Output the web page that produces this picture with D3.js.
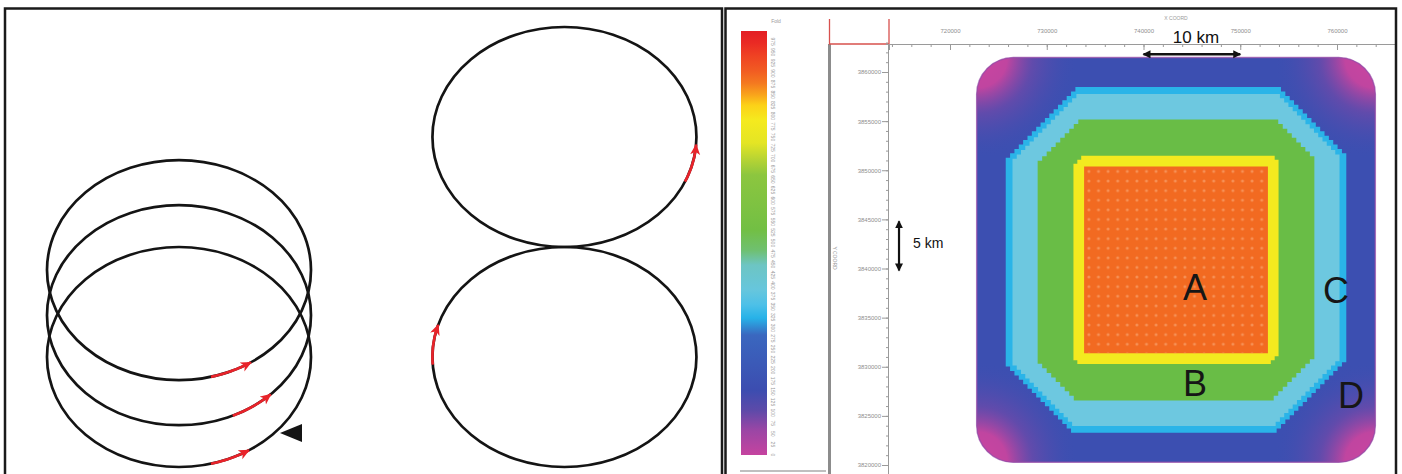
<!DOCTYPE html>
<html>
<head>
<meta charset="utf-8">
<script src="https://cdn.jsdelivr.net/npm/d3@7"></script>
<style>
  body { margin: 0; background: #fff; }
  svg { display: block; font-family: "Liberation Sans", Arial, sans-serif; }
</style>
</head>
<body>
<script>
// ---------- left panel: acquisition loops (units = loop radius) ----------
const spiralLoops = [0, 0.38, 0.79];     // centre heights of the three spiral loops
const eightLoops = [0, 2.0];             // centre heights of the figure-eight loops
const spiralX = 0;
const eightX = 2.92;
// red direction arrows, start/end angle in degrees on each loop
const spiralArrows = [[-76, -58], [-66, -46], [-76, -57]];
const eightArrows = [[184, 163], [-24, -4]];
const startMarker = [0.765, -0.69];      // black triangle tip (on lowest spiral loop)

// ---------- right panel: fold map ----------
const xTicks = [720000, 730000, 740000, 750000, 760000];
const yTicks = [3860000, 3855000, 3850000, 3845000, 3840000, 3835000, 3830000, 3825000, 3820000];
const foldTicks = [975, 950, 925, 900, 875, 850, 825, 800, 775, 750, 725, 700, 675, 650,
  625, 600, 575, 550, 525, 500, 475, 450, 425, 400, 375, 350, 325, 300, 275, 250, 225,
  200, 175, 150, 125, 100, 75, 50, 25, 0];
const foldValues = [1000, 972, 943, 908, 877, 849, 825, 790, 736, 696, 660, 531, 483, 448,
  389, 354, 323, 283, 153, 106, 59, 0];
const foldColors = ['#e31e24', '#ea2a24', '#ef4123', '#f15a22', '#f47920', '#f9a51b',
  '#fcd118', '#f5ea1e', '#e4e524', '#b5d334', '#8cc63f', '#72bf44', '#6fc070', '#6dc5c3',
  '#66c6dd', '#4dc0e8', '#27b2e8', '#3a67bf', '#3c4db0', '#5c4aa9', '#9a46a5', '#c5439f'];

const surveyCentre = [743360, 3840870];
const bandHalf = [20.6, 17.6, 16.9, 14.3, 10.6, 9.5];     // km, half width of each zone
const bandCorner = [3.8, 7.2, 6.6, 4.2, 0.8, 0];           // km, corner cut
const bandColor = ['#3c4fb1', '#2ab4e8', '#6dc8e0', '#69bd46', '#f3ea1f', '#f26a21'];

const zoneLabels = ['A', 'B', 'C', 'D'];
const zoneX = [745320, 745320, 759900, 761450];
const zoneY = [3838100, 3828350, 3837800, 3827150];

const W = 1402, H = 474;
const svg = d3.select('body').append('svg').attr('width', W).attr('height', H);
const defs = svg.append('defs');

// ======================= LEFT PANEL =======================
const lx = d3.scaleLinear().domain([0, 1]).range([179, 311]);
const ly = d3.scaleLinear().domain([0, 1]).range([357, 247]);
const rx = lx(1) - lx(0), ry = ly(0) - ly(1);

defs.append('marker')
  .attr('id', 'redhead')
  .attr('markerUnits', 'userSpaceOnUse')
  .attr('markerWidth', 14).attr('markerHeight', 12)
  .attr('refX', 10).attr('refY', 5)
  .attr('orient', 'auto')
  .append('path')
  .attr('d', 'M0,0 L11,5 L0,10 L3,5 Z')
  .attr('fill', '#e8232a');

const left = svg.append('g');

function loop(u, v) {
  left.append('ellipse')
    .attr('cx', lx(u)).attr('cy', ly(v))
    .attr('rx', rx).attr('ry', ry)
    .attr('fill', 'none').attr('stroke', '#141414').attr('stroke-width', 2.7);
}
spiralLoops.forEach(v => loop(spiralX, v));
eightLoops.forEach(v => loop(eightX, v));

function arc(u, v, a) {
  const step = a[1] > a[0] ? 1 : -1;
  const ang = d3.range(a[0], a[1] + step * 0.5, step);
  const line = d3.line()
    .x(t => lx(u + Math.cos(t * Math.PI / 180)))
    .y(t => ly(v + Math.sin(t * Math.PI / 180)));
  left.append('path')
    .attr('d', line(ang))
    .attr('fill', 'none').attr('stroke', '#e8232a').attr('stroke-width', 2.7)
    .attr('marker-end', 'url(#redhead)');
}
spiralArrows.forEach((a, i) => arc(spiralX, spiralLoops[i], a));
eightArrows.forEach((a, i) => arc(eightX, eightLoops[i], a));

// start marker triangle
const tx = lx(startMarker[0]), ty = ly(startMarker[1]);
left.append('path')
  .attr('d', `M${tx},${ty} L${tx + 22},${ty - 9} L${tx + 22},${ty + 9} Z`)
  .attr('fill', '#141414');

// ======================= RIGHT PANEL =======================
const mx = d3.scaleLinear().domain([720000, 760000]).range([950, 1337]);
const my = d3.scaleLinear().domain([3860000, 3820000]).range([72, 465]);
const right = svg.append('g');

// --- colour bar ---
const fy = d3.scaleLinear().domain([0, 1000]).range([455, 31]);
const grad = defs.append('linearGradient')
  .attr('id', 'foldgrad')
  .attr('gradientUnits', 'userSpaceOnUse')
  .attr('x1', 0).attr('x2', 0)
  .attr('y1', fy(1000)).attr('y2', fy(0));
foldValues.forEach((v, i) => {
  grad.append('stop')
    .attr('offset', (fy(v) - fy(1000)) / (fy(0) - fy(1000)))
    .attr('stop-color', foldColors[i]);
});
right.append('rect')
  .attr('x', 741).attr('y', fy(1000))
  .attr('width', 26).attr('height', fy(0) - fy(1000))
  .attr('fill', 'url(#foldgrad)');

right.selectAll('.foldlab')
  .data(foldTicks)
  .enter().append('text')
  .attr('class', 'foldlab')
  .attr('transform', d => `translate(771,${fy(d)}) rotate(90)`)
  .attr('text-anchor', 'middle')
  .attr('font-size', 5)
  .attr('fill', '#9a9a9a')
  .text(d => d);
right.append('text')
  .attr('x', 776).attr('y', 23)
  .attr('text-anchor', 'middle').attr('font-size', 5).attr('fill', '#9a9a9a')
  .text('Fold');
right.append('line')
  .attr('x1', 740).attr('x2', 826).attr('y1', 471).attr('y2', 471)
  .attr('stroke', '#aaa').attr('stroke-width', 1.5);

// --- frame of the map window ---
right.append('line')
  .attr('x1', 829.5).attr('x2', 829.5).attr('y1', 44).attr('y2', H)
  .attr('stroke', '#8c8c8c').attr('stroke-width', 3);
right.append('path')
  .attr('d', 'M829.5,19 V44 H889 V19')
  .attr('fill', 'none').attr('stroke', '#d8514e').attr('stroke-width', 1.3);

// --- axes ---
const ax = mx.copy().domain([mx.invert(889), mx.invert(1396)]).range([889, 1396]);
const ay = my.copy().domain([my.invert(44), my.invert(H)]).range([44, H]);

const gx = right.append('g').attr('transform', 'translate(0,44)');
gx.call(d3.axisBottom(ax).tickValues(d3.range(714000, 766001, 2000)).tickSize(3).tickFormat(''));
gx.call(g => g.append('g').call(d3.axisBottom(ax).tickValues(xTicks).tickSize(6).tickFormat('')));
gx.append('g').call(d3.axisTop(ax).tickValues(xTicks).tickSize(0).tickPadding(11).tickFormat(d3.format('d')))
  .call(g => g.select('.domain').remove());

const gy = right.append('g').attr('transform', 'translate(888,0)');
gy.call(d3.axisLeft(ay).tickValues(d3.range(3863000, 3818999, -1000)).tickSize(2).tickFormat(''));
gy.append('g').call(d3.axisLeft(ay).tickValues(yTicks).tickSize(6).tickPadding(1).tickFormat(d3.format('d')))
  .call(g => g.select('.domain').remove());

right.selectAll('.tick text').attr('font-size', 6).attr('fill', '#8e8e8e')
  .attr('font-family', '"Liberation Sans", Arial, sans-serif');
right.selectAll('.domain, .tick line').attr('stroke', '#9a9a9a');

right.append('text')
  .attr('x', 1176).attr('y', 20)
  .attr('text-anchor', 'middle').attr('font-size', 5).attr('fill', '#9a9a9a')
  .text('X COORD');
right.append('text')
  .attr('transform', 'translate(833,258) rotate(90)')
  .attr('text-anchor', 'middle').attr('font-size', 5).attr('fill', '#9a9a9a')
  .text('Y COORD');

// --- fold zones ---
const [cx, cy] = surveyCentre;
const px = d => mx(cx + d * 1000);
const py = d => my(cy + d * 1000);

function stairs(pts, p, q, n) {
  const dx = (q[0] - p[0]) / n, dy = (q[1] - p[1]) / n;
  for (let i = 1; i <= n; i++) {
    pts.push([p[0] + dx * i, p[1] + dy * (i - 1)]);
    pts.push([p[0] + dx * i, p[1] + dy * i]);
  }
}
function zonePath(h, c) {
  if (c === 0) {
    return d3.line()([[-h, h], [h, h], [h, -h], [-h, -h]].map(d => [px(d[0]), py(d[1])])) + 'Z';
  }
  const n = Math.max(1, Math.round(c / 0.45));
  const pts = [[-h + c, h], [h - c, h]];
  stairs(pts, [h - c, h], [h, h - c], n);
  pts.push([h, -h + c]);
  stairs(pts, [h, -h + c], [h - c, -h], n);
  pts.push([-h + c, -h]);
  stairs(pts, [-h + c, -h], [-h, -h + c], n);
  pts.push([-h, h - c]);
  stairs(pts, [-h, h - c], [-h + c, h], n);
  return d3.line()(pts.map(d => [px(d[0]), py(d[1])])) + 'Z';
}

const map = right.append('g');
// outer zone: rounded square
const oh = bandHalf[0];
const outer = sel => sel
  .attr('x', px(-oh)).attr('y', py(oh))
  .attr('width', px(oh) - px(-oh)).attr('height', py(-oh) - py(oh))
  .attr('rx', px(bandCorner[0]) - px(0));
defs.append('clipPath').attr('id', 'outerclip').append('rect').call(outer);
map.append('rect').call(outer).attr('fill', bandColor[0]);

// magenta low-fold corners
const rg = defs.append('radialGradient').attr('id', 'cornergrad');
[[0, '#cc45a0', 1], [0.3, '#c045a0', 1], [0.55, '#7a48a8', 0.6], [1, '#3c4fb1', 0]]
  .forEach(s => rg.append('stop').attr('offset', s[0]).attr('stop-color', s[1]).attr('stop-opacity', s[2]));
const corners = map.append('g').attr('clip-path', 'url(#outerclip)');
[[-oh, oh], [oh, oh], [oh, -oh], [-oh, -oh]].forEach(d => {
  corners.append('circle')
    .attr('cx', px(d[0])).attr('cy', py(d[1]))
    .attr('r', px(10.5) - px(0))
    .attr('fill', 'url(#cornergrad)');
});
map.append('rect').call(outer)
  .attr('fill', 'none').attr('stroke', '#9a4aa6').attr('stroke-width', 1.5).attr('stroke-opacity', 0.7);

for (let i = 1; i < bandHalf.length; i++) {
  map.append('path')
    .attr('d', zonePath(bandHalf[i], bandCorner[i]))
    .attr('fill', bandColor[i]);
}

// full-fold dotted texture
const pat = defs.append('pattern')
  .attr('id', 'dots')
  .attr('patternUnits', 'userSpaceOnUse')
  .attr('width', 9.6).attr('height', 9.6)
  .attr('x', px(-bandHalf[5])).attr('y', py(bandHalf[5]));
pat.append('circle').attr('cx', 4.8).attr('cy', 4.8).attr('r', 1.5)
  .attr('fill', '#f8a26c').attr('fill-opacity', 0.7);
map.append('path')
  .attr('d', zonePath(bandHalf[5], 0))
  .attr('fill', 'url(#dots)');

// zone letters
right.selectAll('.zone')
  .data(zoneLabels)
  .enter().append('text')
  .attr('class', 'zone')
  .attr('x', (d, i) => mx(zoneX[i]))
  .attr('y', (d, i) => my(zoneY[i]) + 13)
  .attr('text-anchor', 'middle')
  .attr('font-size', 36)
  .attr('fill', '#161616')
  .text(d => d);

// scale bars
defs.append('marker')
  .attr('id', 'blackhead')
  .attr('markerUnits', 'userSpaceOnUse')
  .attr('markerWidth', 10).attr('markerHeight', 10)
  .attr('refX', 7).attr('refY', 4)
  .attr('orient', 'auto-start-reverse')
  .append('path')
  .attr('d', 'M0,0 L8,4 L0,8 Z')
  .attr('fill', '#111');

right.append('line')
  .attr('x1', mx(740000)).attr('x2', mx(750000))
  .attr('y1', my(3861800)).attr('y2', my(3861800))
  .attr('stroke', '#111').attr('stroke-width', 2.5)
  .attr('marker-start', 'url(#blackhead)').attr('marker-end', 'url(#blackhead)');
right.append('text')
  .attr('x', 1196).attr('y', 43)
  .attr('text-anchor', 'middle').attr('font-size', 17).attr('fill', '#111')
  .text('10 km');

right.append('line')
  .attr('x1', mx(714730)).attr('x2', mx(714730))
  .attr('y1', my(3844800)).attr('y2', my(3839800))
  .attr('stroke', '#111').attr('stroke-width', 2.2)
  .attr('marker-start', 'url(#blackhead)').attr('marker-end', 'url(#blackhead)');
right.append('text')
  .attr('x', 913).attr('y', 248)
  .attr('font-size', 14).attr('fill', '#111')
  .text('5 km');

// ======================= PANEL FRAMES =======================
svg.append('path')
  .attr('d', `M5,${H + 5} V8.5 H722 V${H + 5}`)
  .attr('fill', 'none').attr('stroke', '#1a1a1a').attr('stroke-width', 2.5);
svg.append('path')
  .attr('d', `M725.5,${H + 5} V8.5 H1396 V${H + 5}`)
  .attr('fill', 'none').attr('stroke', '#1a1a1a').attr('stroke-width', 2.5);
</script>
</body>
</html>
